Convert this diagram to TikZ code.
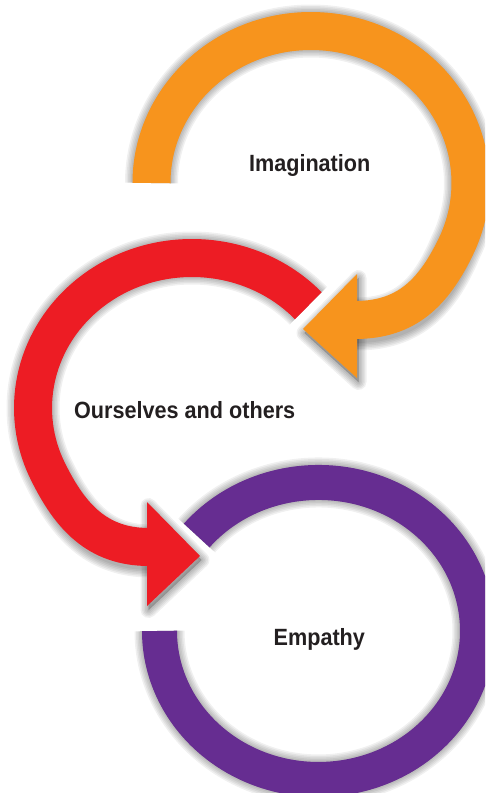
\documentclass[tikz,border=0pt]{standalone}
\usepackage{fontspec}
\setmainfont{Liberation Sans}[FakeStretch=0.92]

\definecolor{loopOrange}{HTML}{F7941D}
\definecolor{loopRed}{HTML}{ED1C24}
\definecolor{loopPurple}{HTML}{662D91}
\definecolor{loopText}{HTML}{231F20}

% Loop bands (pixel units, y pointing down)
\newcommand{\orangeloop}{(ocen) ++(-159.5,0) arc[start angle=180, end angle=385, x radius=159.5, y radius=152]
  .. controls (433.6,292.2) and (407,320) .. (355,320)}
\newcommand{\redloop}{(rcen) ++(116.3,-102.3) arc[start angle=-43, end angle=-205, x radius=159, y radius=150]
  .. controls (70,516.2) and (97,547) .. (149,547)}
\newcommand{\purpleloop}{(pcen) ++(-121.8,-95.5) arc[start angle=-140, end angle=180, x radius=159, y radius=148.5]}
% Arrow heads
\newcommand{\orangehead}{(357,274) -- (303,329) -- (357,378) -- cycle}
\newcommand{\redhead}{(147,502) -- (200,556) -- (147,606) -- cycle}

\begin{document}
\begin{tikzpicture}[x=1pt, y=-1pt]
		% Styles
		\tikzstyle{softshadow} = [draw=black, opacity=0.06, line join=round]
		\tikzstyle{looptext} = [font=\bfseries\fontsize{23.5}{27}\selectfont, text=loopText, anchor=base, inner sep=0pt]
		
		\useasboundingbox (0,0) rectangle (485,793);
		\clip (0,0) rectangle (485,793);
		
		% Centres
		\coordinate (ocen) at (311,183);
		\coordinate (rcen) at (192,408);
		\coordinate (pcen) at (318.5,631);
		
		% Shadows
		\begin{scope}[shift={(1.5,4)}]
			\fill[black, opacity=0.2] \orangehead;
			\fill[black, opacity=0.2] \redhead;
			\foreach \k in {0,...,5}{
				\draw[softshadow, line width=38+3*\k] \orangeloop;
				\draw[softshadow, line width=38+3*\k] \redloop;
				\draw[softshadow, line width=35+3*\k] \purpleloop;
				\draw[softshadow, line width=1+3*\k] \orangehead;
				\draw[softshadow, line width=1+3*\k] \redhead;
			}
		\end{scope}
		
		% Bands
		\draw[loopPurple, line width=35] \purpleloop;
		\draw[loopRed, line width=38] \redloop;
		\fill[loopRed] \redhead;
		\draw[loopOrange, line width=38] \orangeloop;
		\fill[loopOrange] \orangehead;
		
		% Nodes
		\node[looptext] (imagination) at (309.7,171.7) {Imagination};
		\node[looptext] (ourselves) at (184.7,418.3) {Ourselves and others};
		\node[looptext] (empathy) at (319.3,645) {Empathy};
\end{tikzpicture}
\end{document}
